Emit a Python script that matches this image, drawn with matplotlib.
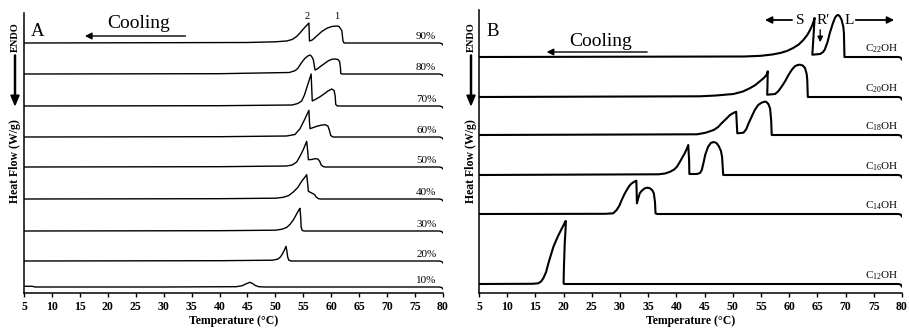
import matplotlib
matplotlib.use("Agg")
import matplotlib.pyplot as plt

plt.rcParams.update({
    "font.family": "Liberation Serif",
    "mathtext.fontset": "custom",
    "mathtext.rm": "Liberation Serif",
    "mathtext.it": "Liberation Serif:italic",
    "mathtext.bf": "Liberation Serif:bold",
})

# --- Panel A: DSC cooling curves, temperature (°C) vs heat flow (offset traces) ---
a_labels = ["10%", "20%", "30%", "40%", "50%", "60%", "70%", "80%", "90%"]
a_offsets = [6, 32, 62, 94, 126, 156, 187, 219, 250]

a10 = ([5, 6.5, 7, 30, 43, 44.0, 44.7, 45.4, 45.9, 46.4, 47.0, 48.0, 79.4, 79.8, 80],
       [0.7, 0.7, 0, 0, 0.3, 1.2, 3, 4.7, 3.5, 1.5, 0.3, 0, 0, -0.7, -2])
a20 = ([5, 40, 49.5, 50.4, 50.9, 51.3, 51.7, 51.9, 52.05, 52.2, 52.4, 52.8, 79.4, 79.8, 80],
       [0, 0.3, 0.8, 1.8, 4, 7.5, 12, 14.7, 10, 4, 0.8, 0, 0, -0.7, -2])
a30 = ([5, 40, 50, 51.2, 52.0, 52.6, 53.2, 53.8, 54.2, 54.4, 54.55, 54.6, 54.8, 55.2, 79.4, 79.8, 80],
       [0, 0.3, 0.8, 1.8, 3.5, 6.5, 11, 17, 21, 22.7, 12, 4, 0.5, 0, 0, -0.7, -2])
a40 = ([5, 40, 50, 51.4, 52.4, 53.2, 54.0, 54.7, 55.3, 55.6, 55.8, 55.9, 56.5, 57.0, 57.3, 57.7, 58.2,
        79.4, 79.8, 80],
       [0, 0.3, 0.8, 1.7, 3.5, 7, 11.5, 17.7, 22, 24.3, 14, 7.7, 6, 4.5, 2, 0.3, 0, 0, -0.7, -2])
a50 = ([5, 40, 52, 53.0, 53.8, 54.4, 55.0, 55.6, 55.8, 55.9, 56.5, 57.1, 57.6, 57.9, 58.2, 58.6, 59.0,
        79.4, 79.8, 80],
       [0, 0.3, 1, 2, 5, 10.7, 17.5, 25.7, 15, 7.3, 7.5, 8.3, 8, 6, 2, 0.3, 0, 0, -0.7, -2])
a60 = ([5, 40, 52, 53.5, 54.4, 55.3, 56.0, 56.1, 56.2, 56.8, 57.4, 58.2, 58.9, 59.4, 59.7, 59.9, 60.3,
        79.4, 79.8, 80],
       [0, 0.3, 1, 2.5, 8.3, 18.3, 26.7, 15, 8.3, 9.5, 10.7, 11.8, 12.3, 11, 6, 1.5, 0, 0, -0.7, -2])
a70 = ([5, 40, 53, 54.0, 54.7, 55.2, 55.6, 56.0, 56.4, 56.5, 56.6, 57.3, 58.0, 58.7, 59.4, 60.1, 60.5,
        60.7, 60.8, 61.1, 79.4, 79.8, 80],
       [0, 0.3, 1, 2.5, 5, 11, 18, 25, 32, 18, 5, 7, 9.3, 12, 15, 17, 15.5, 10, 1.5, 0, 0, -0.7, -2])
a80 = ([5, 40, 52.5, 53.5, 54.0, 54.4, 54.9, 55.3, 55.8, 56.2, 56.5, 56.8, 57.0, 57.1, 57.5, 58.0, 58.8,
        59.5, 60.1, 60.7, 61.2, 61.5, 61.65, 61.7, 62.0, 79.4, 79.8, 80],
       [0, 0.3, 1.5, 3.3, 5.5, 9, 13, 15.7, 18, 19, 17.5, 14, 7, 4, 5, 7.3, 10.5,
        13.3, 14.7, 15, 14.5, 12.3, 6, 0.5, 0, 0, -0.7, -2])
a90 = ([5, 45, 50, 52, 53.0, 53.8, 54.4, 55.0, 55.5, 56.0, 56.1, 56.6, 57.4, 58.3, 59.2, 60.1, 61.0,
        61.4, 61.7, 61.9, 62.1, 62.3, 79.4, 79.8, 80],
       [0, 0.5, 1.2, 2, 3.5, 6.5, 10, 14, 17, 20, 2, 3, 7, 11.5, 14.7, 16.5, 17,
        16.5, 14, 12, 2, 0, 0, -0.7, -2])
a_traces = [a10, a20, a30, a40, a50, a60, a70, a80, a90]

# --- Panel B: fatty alcohols ---
b_labels = [r"C$_{12}$OH", r"C$_{14}$OH", r"C$_{16}$OH", r"C$_{18}$OH", r"C$_{20}$OH", r"C$_{22}$OH"]
b_offsets = [9, 79, 118, 158, 196, 236]

b12 = ([5, 14.5, 15.5, 16.0, 16.4, 16.9, 17.3, 17.8, 18.2, 18.7, 19.1, 19.6, 20.0, 20.3, 20.4, 20.35,
        20.2, 20.05, 20.0, 20.1, 79.4, 79.8, 80],
       [0, 0.2, 0.7, 2.5, 5.7, 12, 20.7, 30, 37.3, 44, 49, 54.5, 59, 62.5, 63, 55,
        40.7, 15, 0.7, 0, 0, -0.7, -2.5])
b14 = ([5, 27.5, 28.8, 29.4, 29.9, 30.3, 30.8, 31.2, 31.7, 32.1, 32.6, 32.9, 33.0, 33.2, 33.5, 33.9,
        34.4, 34.9, 35.3, 35.7, 36.0, 36.2, 36.3, 36.6, 79.4, 79.8, 80],
       [0, 0.2, 0.7, 4, 8.5, 14, 20, 24, 28.5, 30.7, 32.5, 33.3, 10.7, 15, 20.7, 23.5,
        25.7, 26.3, 25.7, 24, 20.7, 12, 0.7, 0, 0, -0.7, -2.5])
b16 = ([5, 36.8, 38.0, 38.9, 39.6, 40.1, 40.6, 41.0, 41.5, 41.9, 42.1, 42.25, 42.3, 43.6, 44.2, 44.5,
        44.8, 45.1, 45.6, 46.1, 46.6, 47.1, 47.5, 47.9, 48.1, 48.3, 79.4, 79.8, 80],
       [0, 0.7, 1.5, 3.3, 5.5, 8.3, 13, 17, 22, 27, 30, 15, 1, 1, 2, 5,
        12, 20, 28, 32, 33, 32, 29, 24, 18, 0, 0, -0.7, -2.5])
b18 = ([5, 43.7, 45.2, 46.6, 47.4, 48.0, 48.8, 49.5, 50.1, 50.6, 50.7, 50.8, 51.9, 52.4, 52.8, 53.4,
        53.9, 54.5, 55.1, 55.6, 55.9, 56.3, 56.6, 56.8, 56.9, 79.4, 79.8, 80],
       [0, 0.7, 2.3, 5, 8, 11.7, 16, 20, 22, 23.3, 12, 1.7, 2.3, 6, 11.7, 19,
        25, 30, 32.3, 33.3, 33.3, 31, 26.7, 15, 0, 0, -0.7, -2.5])
b20 = ([5, 44.2, 47.0, 50.1, 51.8, 53.1, 54.0, 54.8, 55.5, 56.0, 56.2, 56.15, 56.1, 57.5, 58.1, 58.7,
        59.3, 59.9, 60.5, 61.0, 61.5, 61.9, 62.4, 62.8, 63.1, 63.2, 63.3, 79.4, 79.8, 80],
       [0, 0.7, 1.5, 3, 5.5, 9, 12, 15.7, 19, 22.3, 25.7, 12, 2.3, 3, 6, 10.7,
        16, 22.3, 27.5, 30.7, 32, 32.3, 31.5, 29, 23, 17.3, 0, 0, -0.7, -2.5])
b22 = ([5, 52, 55, 57, 58.4, 59.6, 60.7, 61.7, 62.5, 63.2, 63.7, 64.1, 64.4, 64.5, 64.3, 64.1,
        65.5, 66.0, 66.3, 66.8, 67.2, 67.7, 68.1, 68.4, 68.7, 69.0, 69.3, 69.6, 69.7, 69.8,
        79.4, 79.8, 80],
       [0, 0.5, 1.2, 2.5, 4, 6, 9, 12.5, 17, 22, 27, 32, 37, 39, 20, 2.3,
        3, 5, 7.3, 15, 24, 33, 39, 41.5, 42, 40.5, 37, 30, 24, 0,
        0, -0.7, -2.5])
b_traces = [b12, b14, b16, b18, b20, b22]

xticks = list(range(5, 85, 5))


def style_axis(ax, ytop):
    ax.set_xlim(5, 80)
    ax.set_ylim(0, ytop)
    ax.spines["top"].set_visible(False)
    ax.spines["right"].set_visible(False)
    ax.spines["left"].set_linewidth(1.1)
    ax.spines["bottom"].set_linewidth(1.1)
    ax.set_yticks([])
    ax.set_xticks(xticks)
    ax.tick_params(axis="x", direction="out", length=3, width=1, pad=3, labelsize=8.5)
    for lbl in ax.get_xticklabels():
        lbl.set_fontweight("bold")
    ax.set_xlabel("Temperature (°C)", fontsize=8.5, fontweight="bold", labelpad=1.5)


def side_label(fig, x):
    fig.text(x, 1 - 37 / 328, "ENDO", rotation=90, ha="center", va="center",
             fontsize=7.5, fontweight="bold")
    fig.patches.append(matplotlib.patches.FancyArrow(
        x, 1 - 55 / 328, 0, -50 / 328, width=0.0012, head_width=0.009,
        head_length=0.03, color="black", transform=fig.transFigure, figure=fig,
        length_includes_head=True))
    fig.text(x, 1 - 161 / 328, "Heat Flow (W/g)", rotation=90, ha="center", va="center",
             fontsize=8.5, fontweight="bold")


fig = plt.figure(figsize=(9.09, 3.28), dpi=100)
axA = fig.add_axes([24 / 909, 1 - 293 / 328, 419 / 909, 280 / 328])
axB = fig.add_axes([479 / 909, 1 - 293 / 328, 423 / 909, 283 / 328])

# panel A
for (t, h), off, lab in zip(a_traces, a_offsets, a_labels):
    axA.plot(t, [v + off for v in h], color="black", lw=1.0)
    axA.text(77.0, off + 2, lab, ha="center", va="bottom", fontsize=8)
style_axis(axA, 280)
axA.text(7.4, 262, "A", ha="center", va="center", fontsize=13.5)
axA.text(25.5, 270, "Cooling", ha="center", va="center", fontsize=14)
axA.annotate("", xy=(15.4, 257), xytext=(34.4, 257),
             arrowprops=dict(arrowstyle="-|>", color="black", lw=1.0, mutation_scale=10))
axA.text(55.7, 272, "2", ha="center", va="bottom", fontsize=7.5)
axA.text(61.0, 272, "1", ha="center", va="bottom", fontsize=7.5)

# panel B
for (t, h), off, lab in zip(b_traces, b_offsets, b_labels):
    axB.plot(t, [v + off for v in h], color="black", lw=1.5)
    axB.text(76.3, off + 2, lab, ha="center", va="bottom", fontsize=8)
style_axis(axB, 283)
axB.text(7.4, 262, "B", ha="center", va="center", fontsize=13.5)
axB.text(26.5, 252, "Cooling", ha="center", va="center", fontsize=14)
axB.annotate("", xy=(16.5, 241), xytext=(35.3, 241),
             arrowprops=dict(arrowstyle="-|>", color="black", lw=1.0, mutation_scale=10))
axB.text(61.9, 273, "S", ha="center", va="center", fontsize=11)
axB.text(66.0, 273, "R'", ha="center", va="center", fontsize=11)
axB.text(70.7, 273, "L", ha="center", va="center", fontsize=11)
axB.annotate("", xy=(55.2, 273), xytext=(61.0, 273),
             arrowprops=dict(arrowstyle="-|>", color="black", lw=1.3, mutation_scale=10))
axB.annotate("", xy=(79.1, 273), xytext=(71.3, 273),
             arrowprops=dict(arrowstyle="-|>", color="black", lw=1.3, mutation_scale=10))
axB.annotate("", xy=(65.5, 248), xytext=(65.5, 266),
             arrowprops=dict(arrowstyle="-|>", color="black", lw=1.0, mutation_scale=8))

side_label(fig, 15 / 909)
side_label(fig, 471 / 909)

fig.savefig("out.png", dpi=100)
